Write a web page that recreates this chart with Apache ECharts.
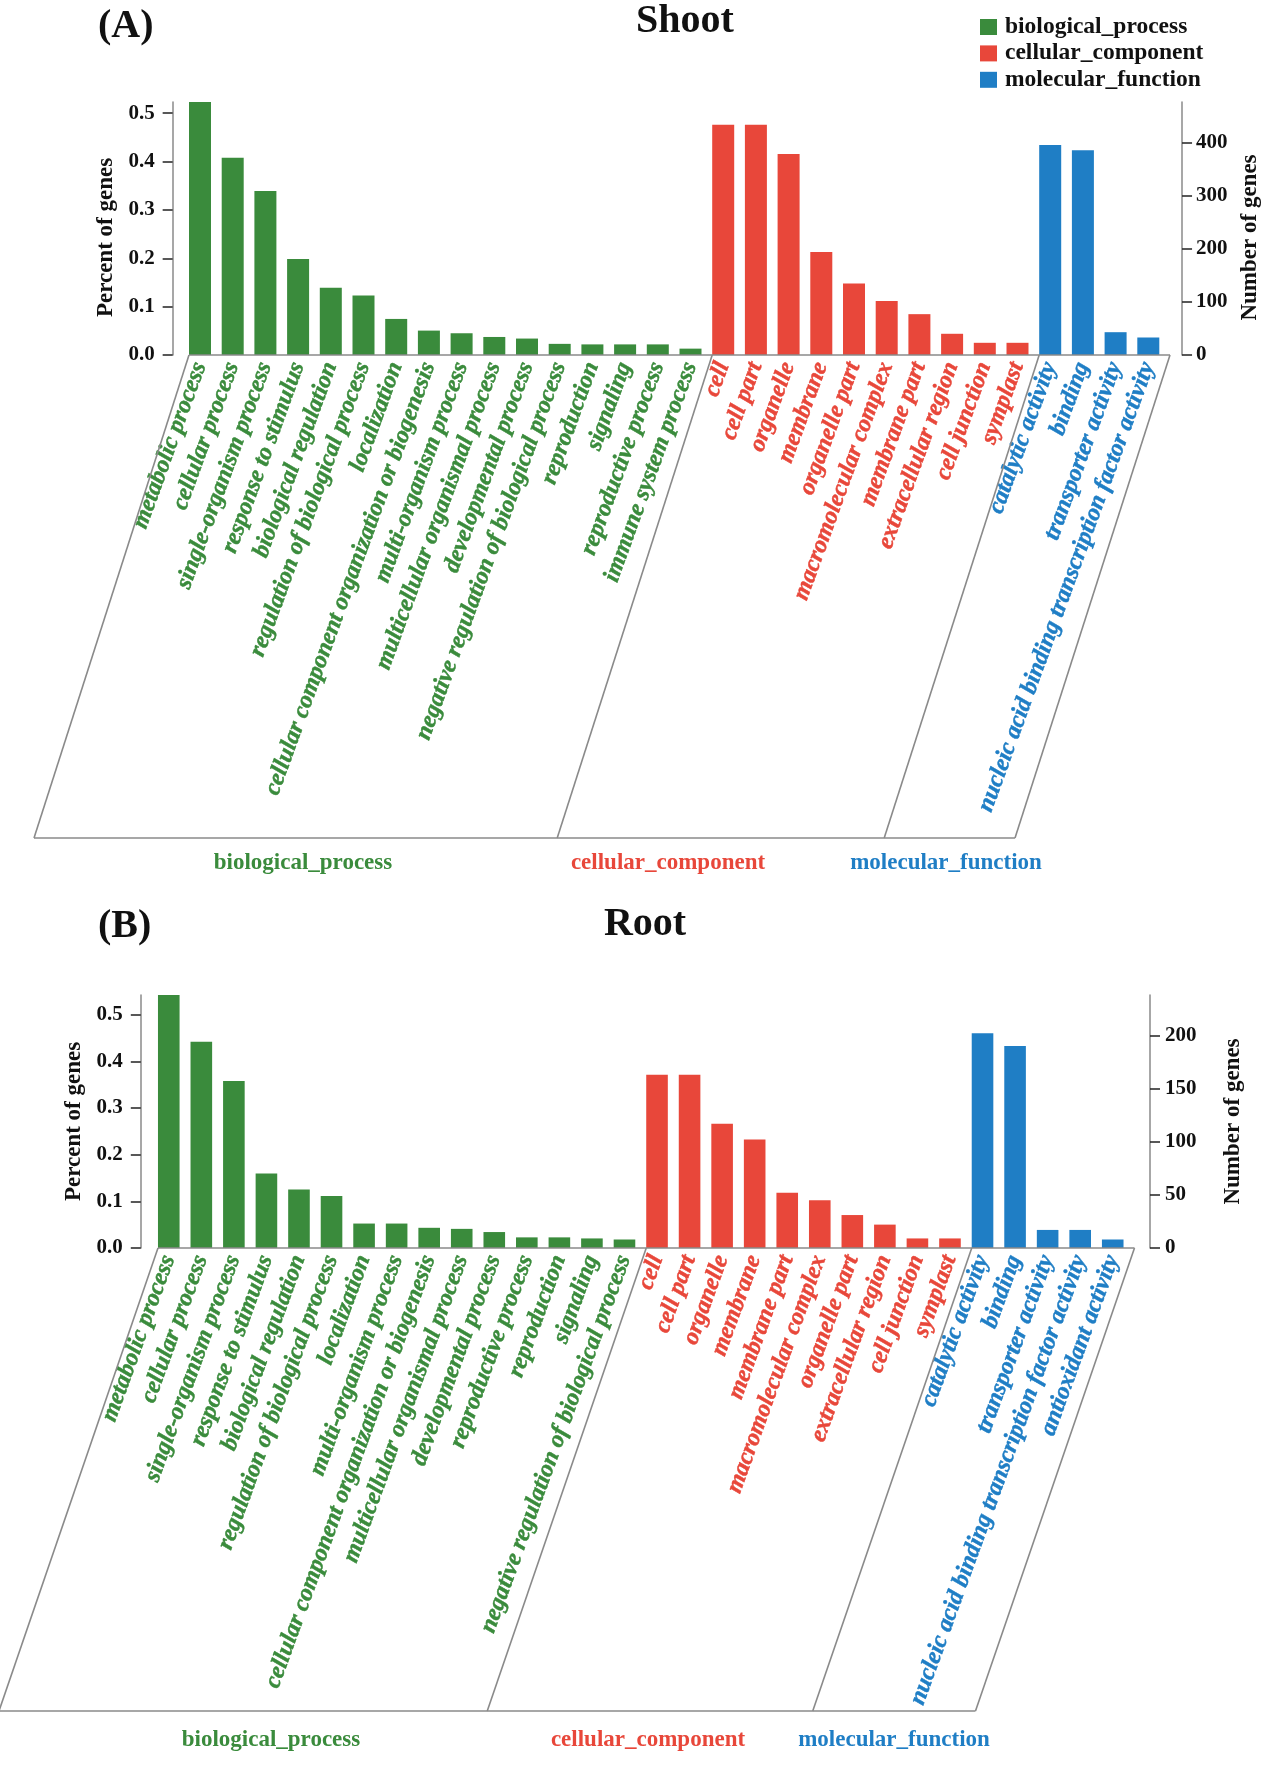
<!DOCTYPE html>
<html><head><meta charset="utf-8">
<script src="https://cdn.jsdelivr.net/npm/echarts@6/dist/echarts.min.js"></script>
<style>html,body{margin:0;padding:0;background:#fff}#c{width:1265px;height:1778px}</style>
</head><body><div id="c"></div>
<script>
// ---------------- data ----------------
const groupNames = ['biological_process', 'cellular_component', 'molecular_function'];

const shootBPTerms = ['metabolic process', 'cellular process', 'single-organism process', 'response to stimulus',
  'biological regulation', 'regulation of biological process', 'localization',
  'cellular component organization or biogenesis', 'multi-organism process', 'multicellular organismal process',
  'developmental process', 'negative regulation of biological process', 'reproduction', 'signaling',
  'reproductive process', 'immune system process'];
const shootBPCounts = [477, 372, 309, 181, 127, 112, 68, 46, 41, 34, 31, 21, 20, 20, 20, 12];
const shootCCTerms = ['cell', 'cell part', 'organelle', 'membrane', 'organelle part', 'macromolecular complex',
  'membrane part', 'extracellular region', 'cell junction', 'symplast'];
const shootCCCounts = [434, 434, 379, 194, 135, 102, 77, 40, 23, 23];
const shootMFTerms = ['catalytic activity', 'binding', 'transporter activity',
  'nucleic acid binding transcription factor activity'];
const shootMFCounts = [396, 386, 43, 33];
const shootTotal = 912;

const rootBPTerms = ['metabolic process', 'cellular process', 'single-organism process', 'response to stimulus',
  'biological regulation', 'regulation of biological process', 'localization', 'multi-organism process',
  'cellular component organization or biogenesis', 'multicellular organismal process', 'developmental process',
  'reproductive process', 'reproduction', 'signaling', 'negative regulation of biological process'];
const rootBPCounts = [238, 194, 157, 70, 55, 49, 23, 23, 19, 18, 15, 10, 10, 9, 8];
const rootCCTerms = ['cell', 'cell part', 'organelle', 'membrane', 'membrane part', 'macromolecular complex',
  'organelle part', 'extracellular region', 'cell junction', 'symplast'];
const rootCCCounts = [163, 163, 117, 102, 52, 45, 31, 22, 9, 9];
const rootMFTerms = ['catalytic activity', 'binding', 'transporter activity',
  'nucleic acid binding transcription factor activity', 'antioxidant activity'];
const rootMFCounts = [202, 190, 17, 17, 8];
const rootTotal = 439;

const percentTicks = [0, 0.1, 0.2, 0.3, 0.4, 0.5];
const shootCountTicks = [0, 100, 200, 300, 400];
const rootCountTicks = [0, 50, 100, 150, 200];

// ---------------- style / layout ----------------
const FONT = '"Liberation Serif","Times New Roman",serif';
const COLORS = ['#3A8B3C', '#E8473A', '#1F7EC5'];
const AXIS_GRAY = '#8a8a8a';

const panels = [
  {
    tag: '(A)', title: 'Shoot',
    terms: [shootBPTerms, shootCCTerms, shootMFTerms],
    counts: [shootBPCounts, shootCCCounts, shootMFCounts],
    total: shootTotal, countTicks: shootCountTicks, countInterval: 100,
    grid: { left: 183.65, width: 981, top: 102, height: 253 },
    barW: 22, leftOffset: 11, rightOffset: 17.4,
    leftNameGap: 53, rightNameGap: 54, leftMargin: 18, rightMargin: 14, nameShift: 18,
    bottomY: 838, slant: 155, groupLabelX: [303, 668, 946], groupLabelY: 863,
    tagPos: [98, 27], titlePos: [685, 22]
  },
  {
    tag: '(B)', title: 'Root',
    terms: [rootBPTerms, rootCCTerms, rootMFTerms],
    counts: [rootBPCounts, rootCCCounts, rootMFCounts],
    total: rootTotal, countTicks: rootCountTicks, countInterval: 50,
    grid: { left: 152.5, width: 976.5, top: 995, height: 253 },
    barW: 21.6, leftOffset: 11.7, rightOffset: 21,
    leftNameGap: 55, rightNameGap: 72, leftMargin: 18, rightMargin: 15, nameShift: 0,
    bottomY: 1711, slant: 159, groupLabelX: [271, 648, 894], groupLabelY: 1740,
    tagPos: [98, 927], titlePos: [645, 925]
  }
];

const chart = echarts.init(document.getElementById('c'), null, { renderer: 'canvas' });

const labelRich = {};
COLORS.forEach((c, g) => {
  labelRich['g' + g] = {
    color: c, textBorderColor: c, textBorderWidth: 0.5,
    fontFamily: FONT, fontSize: 24, fontWeight: 'bold', fontStyle: 'italic'
  };
});

const grids = [], xAxes = [], yAxes = [], series = [];
panels.forEach((p, i) => {
  const cats = [].concat(...p.terms);
  const groupOf = {};
  p.terms.forEach((arr, g) => arr.forEach(t => { groupOf[t] = g; }));
  p.cats = cats;
  const maxCount = Math.max(...[].concat(...p.counts));

  grids.push({ left: p.grid.left, width: p.grid.width, top: p.grid.top, height: p.grid.height, outerBoundsMode: 'none' });

  xAxes.push({
    type: 'category', gridIndex: i, data: cats,
    axisLine: { show: false }, axisTick: { show: false }, splitLine: { show: false },
    axisLabel: {
      interval: 0, rotate: 70, margin: 8, hideOverlap: false,
      fontFamily: FONT, fontSize: 24, fontWeight: 'bold', fontStyle: 'italic',
      formatter: v => '{g' + groupOf[v] + '|' + v + '}',
      rich: labelRich
    }
  });

  const axisCommon = {
    type: 'value', gridIndex: i, min: 0,
    nameLocation: 'middle', nameRotate: 90,
    nameTextStyle: { fontFamily: FONT, fontSize: 23, fontWeight: 'bold', color: '#111', padding: [0, p.nameShift, 0, 0] },
    axisLine: { show: true, lineStyle: { color: AXIS_GRAY, width: 1.5 } },
    splitLine: { show: false }
  };
  yAxes.push(Object.assign({}, axisCommon, {
    position: 'left', offset: p.leftOffset, max: maxCount / p.total, interval: 0.1,
    name: 'Percent of genes', nameGap: p.leftNameGap,
    axisTick: { show: true, length: 10, lineStyle: { color: '#222', width: 1.5 }, customValues: percentTicks },
    axisLabel: { customValues: percentTicks, formatter: v => Number(v).toFixed(1), margin: p.leftMargin,
      fontFamily: FONT, fontSize: 21, fontWeight: 'bold', color: '#111' }
  }));
  yAxes.push(Object.assign({}, axisCommon, {
    position: 'right', offset: p.rightOffset, max: maxCount, interval: p.countInterval,
    name: 'Number of genes', nameGap: p.rightNameGap,
    axisTick: { show: true, length: 10, lineStyle: { color: '#222', width: 1.5 }, customValues: p.countTicks },
    axisLabel: { customValues: p.countTicks, formatter: v => String(Math.round(v)), margin: p.rightMargin,
      fontFamily: FONT, fontSize: 21, fontWeight: 'bold', color: '#111' }
  }));

  let offset = 0;
  p.terms.forEach((arr, g) => {
    const data = cats.map(() => null);
    arr.forEach((t, k) => { data[offset + k] = p.counts[g][k]; });
    offset += arr.length;
    series.push({
      type: 'bar', name: groupNames[g], xAxisIndex: i, yAxisIndex: 2 * i + 1,
      stack: 'panel' + i, barWidth: p.barW, data: data,
      itemStyle: { color: COLORS[g] }, emphasis: { disabled: true }
    });
  });
});

chart.setOption({
  animation: false,
  backgroundColor: '#fff',
  legend: {
    data: groupNames, orient: 'vertical', left: 980, top: 15, padding: 0,
    icon: 'rect', itemWidth: 17, itemHeight: 16, itemGap: 2.4,
    textStyle: { fontFamily: FONT, fontSize: 23.5, fontWeight: 'bold', color: '#111', lineHeight: 22, padding: [0, 0, 0, 3] }
  },
  grid: grids, xAxis: xAxes, yAxis: yAxes, series: series
});

// ---------------- decorations (computed from the chart's own scales) ----------------
const graphics = [];
panels.forEach((p, i) => {
  const N = p.cats.length;
  const band = p.grid.width / N;
  const barLeft = k => chart.convertToPixel({ xAxisIndex: i }, k) - p.barW / 2;
  const y0 = chart.convertToPixel({ yAxisIndex: 2 * i + 1 }, 0);
  const y1 = p.bottomY;
  const nBP = p.terms[0].length, nCC = p.terms[1].length;
  const bounds = [barLeft(0), barLeft(nBP), barLeft(nBP + nCC), barLeft(N - 1) + band];
  const dx = p.slant;
  const ls = { stroke: AXIS_GRAY, lineWidth: 1.6 };
  graphics.push({ type: 'line', shape: { x1: bounds[0], y1: y0, x2: bounds[3], y2: y0 }, style: ls, z: 10 });
  graphics.push({ type: 'line', shape: { x1: bounds[0] - dx, y1: y1, x2: bounds[3] - dx, y2: y1 }, style: ls, z: 10 });
  bounds.forEach(b => graphics.push({ type: 'line', shape: { x1: b, y1: y0, x2: b - dx, y2: y1 }, style: ls, z: 10 }));
  groupNames.forEach((g, gi) => graphics.push({
    type: 'text', x: p.groupLabelX[gi], y: p.groupLabelY, z: 10,
    style: { text: g, fill: COLORS[gi], font: 'bold 23px ' + FONT, align: 'center', verticalAlign: 'middle' }
  }));
  graphics.push({
    type: 'text', x: p.tagPos[0], y: p.tagPos[1], z: 10,
    style: { text: p.tag, fill: '#111', font: 'bold 40px ' + FONT, align: 'left', verticalAlign: 'middle' }
  });
  graphics.push({
    type: 'text', x: p.titlePos[0], y: p.titlePos[1], z: 10,
    style: { text: p.title, fill: '#111', font: 'bold 40px ' + FONT, align: 'center', verticalAlign: 'middle' }
  });
});
chart.setOption({ graphic: graphics });
</script>
</body></html>
